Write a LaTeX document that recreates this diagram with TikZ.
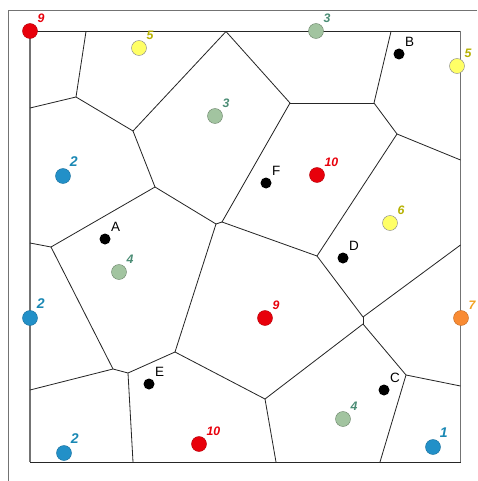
\documentclass[tikz,border=0pt]{standalone}
\usepackage{fontspec}
\setmainfont{Liberation Sans}
\usepackage{tikz}
\usetikzlibrary{positioning, calc}

\definecolor{cred}{HTML}{E8000B}
\definecolor{cyellow}{HTML}{FFFF66}
\definecolor{cyellowtxt}{HTML}{B5B000}
\definecolor{cgreen}{HTML}{A2C4A0}
\definecolor{cgreentxt}{HTML}{4A8C74}
\definecolor{cblue}{HTML}{2290C8}
\definecolor{cbluetxt}{HTML}{1A88B4}
\definecolor{corange}{HTML}{F98B33}
\definecolor{corangetxt}{HTML}{F2A01E}

\begin{document}
\begin{tikzpicture}[
    x=0.03cm, y=-0.03cm,
    edge/.style={line width=0.7pt, black!85},
    frame/.style={line width=0.8pt, black!55},
    site/.style={circle, inner sep=0pt, minimum size=0.45cm, line width=0.4pt},
    dot/.style={circle, fill=black, inner sep=0pt, minimum size=0.33cm},
    letter/.style={font=\fontsize{11.5}{13}\selectfont, inner sep=1pt, label distance=1.5pt},
    num/.style={font=\fontsize{10.5}{12}\selectfont\bfseries\itshape, inner sep=1pt, label distance=1.5pt},
    bignum/.style={font=\fontsize{12}{14}\selectfont\bfseries\itshape, inner sep=1pt, label distance=1.5pt},
    redsite/.style={site, fill=cred, draw=cred!80!black},
    yellowsite/.style={site, fill=cyellow, draw=black!45},
    greensite/.style={site, fill=cgreen, draw=cgreen!70!black},
    bluesite/.style={site, fill=cblue, draw=cblue!80!black},
    orangesite/.style={site, fill=corange, draw=corange!80!black},
]
    \useasboundingbox (0,0) rectangle (477,481);

    % outer frame
    \coordinate (o1) at (8,10);
    \coordinate (o2) at (477,10);
    \coordinate (o3) at (8,481);
    \draw [frame] (o2) -- (o1) -- (o3);

    % square
    \coordinate (sq1) at (30,31.5);
    \coordinate (sq2) at (460.5,31.5);
    \coordinate (sq3) at (460.5,462);
    \coordinate (sq4) at (30,462);
    \draw [edge] (sq1) -- (sq2) (sq3) -- (sq4);
    \draw [frame, line width=1pt] (sq1) -- (sq4) (sq2) -- (sq3);

    % border points
    \coordinate (t1) at (86,31.5);
    \coordinate (t2) at (226,31.5);
    \coordinate (t3) at (391,31.5);
    \coordinate (l1) at (30,108);
    \coordinate (l2) at (30,243);
    \coordinate (l3) at (30,390);
    \coordinate (b1) at (133,462);
    \coordinate (b2) at (276,462);
    \coordinate (b3) at (380,462);
    \coordinate (r1) at (460.5,160);
    \coordinate (r2) at (460.5,245);
    \coordinate (r3) at (460.5,386);

    % inner vertices
    \coordinate (p1) at (76,97);
    \coordinate (p2) at (133,131);
    \coordinate (p3) at (155,187);
    \coordinate (p4) at (51,247);
    \coordinate (p5) at (216,224);
    \coordinate (p6) at (222,222);
    \coordinate (p7) at (290,103);
    \coordinate (p8) at (374,103);
    \coordinate (p9) at (397,134);
    \coordinate (p10) at (317,256);
    \coordinate (p11) at (363,317);
    \coordinate (p12) at (363,324);
    \coordinate (p13) at (265,399);
    \coordinate (p14) at (406,375);
    \coordinate (p15) at (175,352);
    \coordinate (p16) at (128,373);
    \coordinate (p17) at (113,369);

    % cell edges
    \draw [edge] (t1) -- (p1);
    \draw [edge] (l1) -- (p1);
    \draw [edge] (p1) -- (p2);
    \draw [edge] (p2) -- (t2);
    \draw [edge] (p2) -- (p3);
    \draw [edge] (p3) -- (p4);
    \draw [edge] (p4) -- (l2);
    \draw [edge] (p4) -- (p17);
    \draw [edge] (p17) -- (l3);
    \draw [edge] (p17) -- (p16);
    \draw [edge] (p16) -- (b1);
    \draw [edge] (p16) -- (p15);
    \draw [edge] (p15) -- (p5);
    \draw [edge] (p15) -- (p13);
    \draw [edge] (p13) -- (b2);
    \draw [edge] (p13) -- (p12);
    \draw [edge] (p12) -- (p11);
    \draw [edge] (p12) -- (p14);
    \draw [edge] (p14) -- (r3);
    \draw [edge] (p14) -- (b3);
    \draw [edge] (p11) -- (r2);
    \draw [edge] (p11) -- (p10);
    \draw [edge] (p10) -- (p6);
    \draw [edge] (p10) -- (p9);
    \draw [edge] (p9) -- (r1);
    \draw [edge] (p9) -- (p8);
    \draw [edge] (p8) -- (t3);
    \draw [edge] (p8) -- (p7);
    \draw [edge] (p7) -- (t2);
    \draw [edge] (p7) -- (p6);
    \draw [edge] (p6) -- (p5);
    \draw [edge] (p5) -- (p3);

    % weighted sites
    \node (s9a) [redsite, label={[num, text=cred]50:9}] at (30,31) {};
    \node (s5a) [yellowsite, label={[num, text=cyellowtxt]50:5}] at (139,48) {};
    \node (s3a) [greensite, label={[num, text=cgreentxt]50:3}] at (316,31) {};
    \node (s5b) [yellowsite, label={[num, text=cyellowtxt]50:5}] at (457,66) {};
    \node (s3b) [greensite, label={[num, text=cgreentxt]50:3}] at (215,116) {};
    \node (s2a) [bluesite, label={[bignum, text=cbluetxt]55:2}] at (63,176) {};
    \node (s10a) [redsite, label={[num, text=cred]50:10}] at (317,175) {};
    \node (s6) [yellowsite, label={[num, text=cyellowtxt]50:6}] at (390,223) {};
    \node (s4a) [greensite, label={[num, text=cgreentxt]50:4}] at (119,272) {};
    \node (s2b) [bluesite, label={[bignum, text=cbluetxt]55:2}] at (30,318) {};
    \node (s9b) [redsite, label={[num, text=cred]50:9}] at (265,318) {};
    \node (s7) [orangesite, label={[num, text=corangetxt]50:7}] at (461,318) {};
    \node (s4b) [greensite, label={[num, text=cgreentxt]50:4}] at (343,419) {};
    \node (s1) [bluesite, label={[bignum, text=cbluetxt]55:1}] at (433,447) {};
    \node (s2c) [bluesite, label={[bignum, text=cbluetxt]55:2}] at (64,453) {};
    \node (s10b) [redsite, label={[num, text=cred]50:10}] at (199,444) {};

    % query points
    \node (A) [dot, label={[letter]50:A}] at (105,239) {};
    \node (B) [dot, label={[letter]50:B}] at (399,54) {};
    \node (C) [dot, label={[letter]50:C}] at (384,390) {};
    \node (D) [dot, label={[letter]50:D}] at (343,258) {};
    \node (E) [dot, label={[letter]50:E}] at (149,384) {};
    \node (F) [dot, label={[letter]50:F}] at (266,183) {};

\end{tikzpicture}
\end{document}
